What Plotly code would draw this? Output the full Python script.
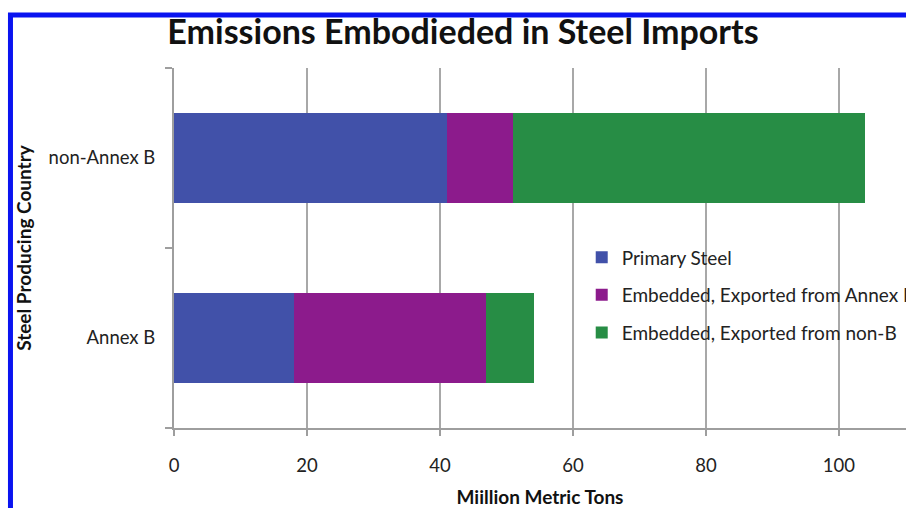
import plotly.graph_objects as go

# Steel producing country groups (bottom to top)
categories = ["Annex B", "non-Annex B"]

# Embodied emissions, million metric tons
primary_steel = [18, 41]
exported_from_annex_b = [29, 10]
exported_from_non_b = [7.2, 53]

series_names = [
    "Primary Steel",
    "Embedded, Exported from Annex B",
    "Embedded, Exported from non-B",
]
series_colors = ["#4151A9", "#8C1B8C", "#278D45"]
x_ticks = [0, 20, 40, 60, 80, 100]

font_family = "Lato, 'Open Sans', sans-serif"
axis_gray = "#9E9E9E"

fig = go.Figure()
for name, vals, color in zip(series_names,
                             [primary_steel, exported_from_annex_b, exported_from_non_b],
                             series_colors):
    fig.add_trace(go.Bar(
        y=categories, x=vals, name=name, orientation="h",
        marker=dict(color=color, line=dict(width=0)),
        legendgroup=name,
    ))

# Frame lines along the top and left edges of the page
fig.add_shape(type="rect", xref="paper", yref="paper",
              x0=-0.2234, x1=2.0, y0=-2.0, y1=1.1472,
              line=dict(color="#0A14F0", width=5), fillcolor="rgba(0,0,0,0)",
              layer="below")

fig.update_layout(
    width=906, height=508,
    margin=dict(l=174, r=0, t=68, b=80, autoexpand=False),
    paper_bgcolor="white", plot_bgcolor="white",
    barmode="stack", bargap=0.5,
    font=dict(family=font_family, color="#222222", size=18.5),
    title=dict(text="<b>Emissions Embodieded in Steel Imports</b>",
               x=0.511, xanchor="center", y=0.937, yanchor="middle",
               font=dict(size=34, color="#111111", family=font_family)),
    showlegend=True,
    legend=dict(x=0.557, xanchor="left", y=0.527, yanchor="top",
                traceorder="grouped", tracegroupgap=10,
                bgcolor="rgba(0,0,0,0)",
                font=dict(size=19, color="#222222", family=font_family)),
    xaxis=dict(range=[0, 110.1], tickvals=x_ticks,
               showgrid=True, gridcolor="#A8A8A8", gridwidth=2,
               zeroline=False,
               showline=True, linecolor=axis_gray, linewidth=2,
               ticks="outside", ticklen=6, tickcolor=axis_gray, tickwidth=2,
               tickfont=dict(size=18.5), ticklabelstandoff=14,
               title=dict(text="<b>Miillion Metric Tons</b>", standoff=27,
                          font=dict(size=19, color="#111111"))),
    yaxis=dict(type="category", categoryorder="array", categoryarray=categories,
               showgrid=False, zeroline=False,
               showline=True, linecolor=axis_gray, linewidth=2,
               ticks="outside", ticklen=7, tickcolor=axis_gray, tickwidth=2,
               tickson="boundaries", tickfont=dict(size=18.5),
               ticklabelstandoff=13,
               title=dict(text="<b>Steel Producing Country</b>", standoff=12,
                          font=dict(size=19, color="#111111"))),
)

fig.write_html("out.html")
